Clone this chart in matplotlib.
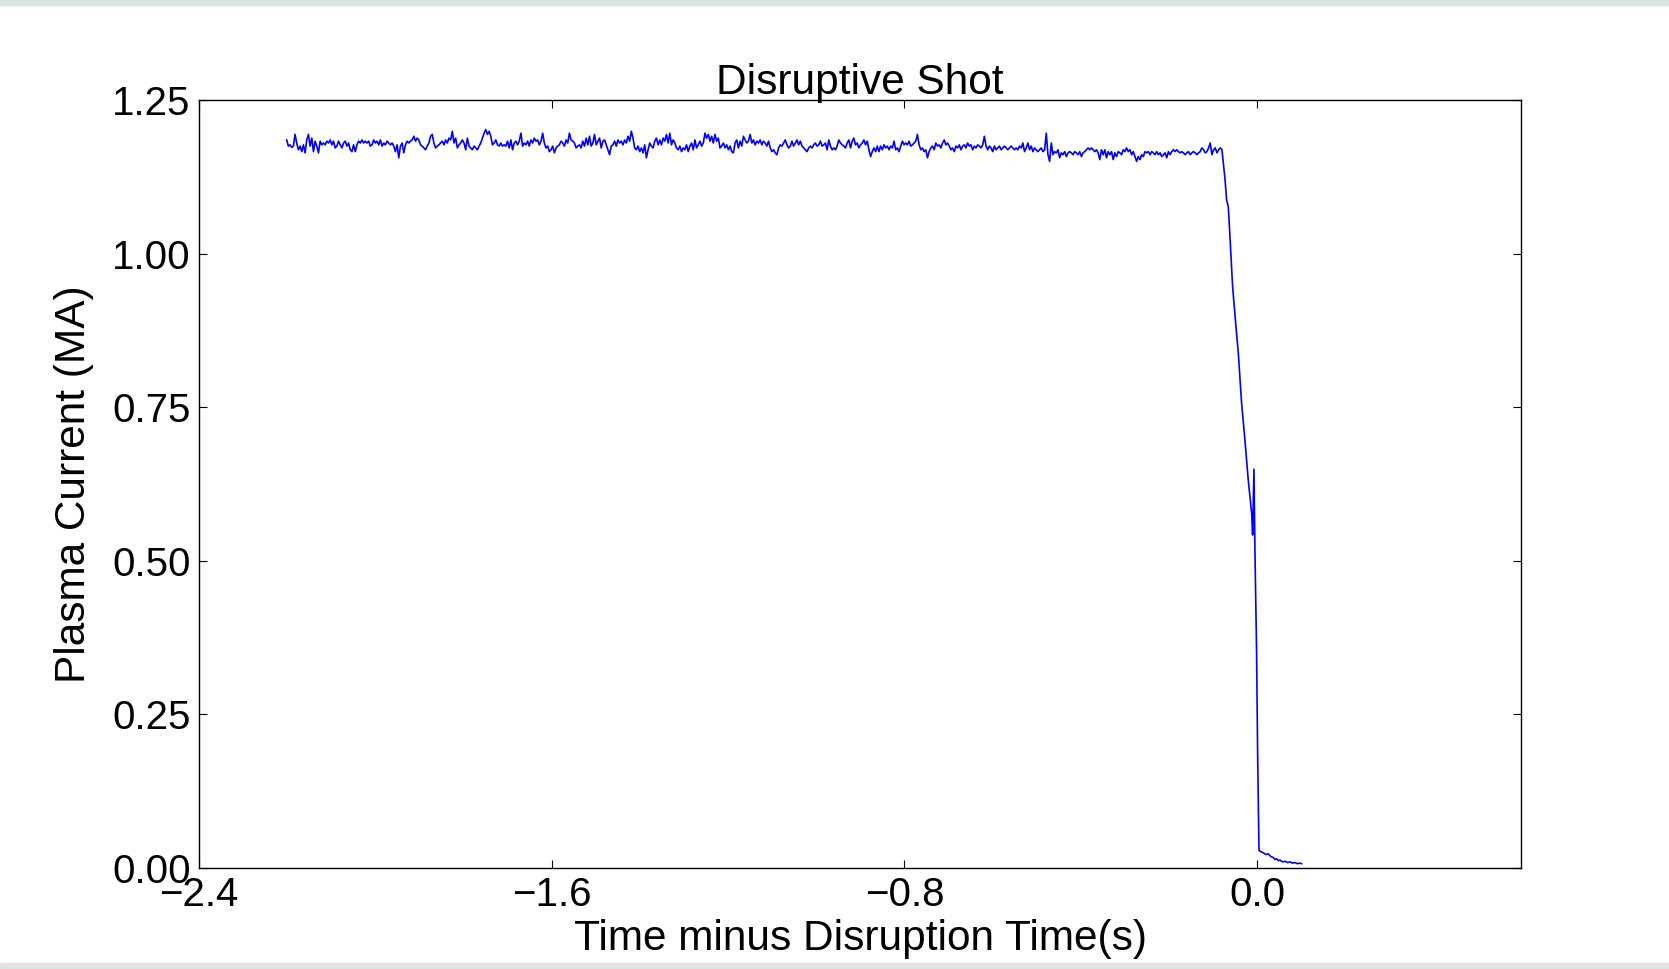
import numpy as np
import matplotlib
matplotlib.use("Agg")
import matplotlib.pyplot as plt
from matplotlib.patches import Rectangle
from matplotlib.ticker import FuncFormatter

plt.rcParams['font.family'] = ['Liberation Sans', 'DejaVu Sans']

# plasma current (MA) during the flat top left to right
flat_start = -2.201
flat_end = -0.0794
flat_ip = [
    1.185, 1.175, 1.177, 1.173, 1.175, 1.194, 1.180, 1.169, 1.175, 1.166, 1.177, 1.164, 1.185, 1.194, 1.175, 1.188, 1.166, 1.183, 1.175, 1.164,
    1.183, 1.177, 1.180, 1.177, 1.183, 1.180, 1.185, 1.177, 1.183, 1.172, 1.175, 1.183, 1.177, 1.172, 1.180, 1.183, 1.175, 1.180, 1.169, 1.166,
    1.177, 1.166, 1.177, 1.183, 1.180, 1.185, 1.180, 1.183, 1.180, 1.183, 1.175, 1.177, 1.185, 1.180, 1.183, 1.177, 1.185, 1.175, 1.180, 1.177,
    1.183, 1.180, 1.177, 1.180, 1.175, 1.166, 1.177, 1.156, 1.175, 1.180, 1.164, 1.177, 1.183, 1.180, 1.183, 1.185, 1.191, 1.183, 1.188, 1.185,
    1.177, 1.175, 1.172, 1.169, 1.175, 1.180, 1.191, 1.194, 1.180, 1.172, 1.175, 1.177, 1.180, 1.183, 1.177, 1.185, 1.180, 1.188, 1.185, 1.199,
    1.180, 1.188, 1.172, 1.177, 1.180,
    1.185, 1.180, 1.169, 1.188, 1.175, 1.172, 1.169, 1.175, 1.172, 1.169, 1.175, 1.180, 1.188, 1.196, 1.202, 1.194, 1.199, 1.191, 1.177, 1.180,
    1.185, 1.177, 1.175, 1.180, 1.175, 1.177, 1.175, 1.183, 1.172, 1.185, 1.169, 1.180, 1.183, 1.177, 1.183, 1.196, 1.175, 1.180, 1.177, 1.183,
    1.175, 1.185, 1.180, 1.188, 1.183, 1.185, 1.177, 1.183, 1.196, 1.180, 1.172, 1.175, 1.166, 1.169, 1.175, 1.164, 1.172, 1.175, 1.177, 1.183,
    1.180, 1.175, 1.185, 1.180, 1.196, 1.185, 1.183, 1.180, 1.172, 1.175, 1.177, 1.172, 1.183, 1.175, 1.188, 1.177, 1.191, 1.175, 1.180, 1.194,
    1.177, 1.183, 1.188, 1.172, 1.183, 1.185, 1.177, 1.169, 1.161, 1.175, 1.177, 1.183, 1.175, 1.185, 1.180, 1.183, 1.177, 1.185, 1.180, 1.191,
    1.183, 1.199, 1.188, 1.172, 1.169, 1.175, 1.166, 1.172, 1.164, 1.177, 1.156, 1.169, 1.180, 1.175, 1.172,
    1.183, 1.188, 1.177, 1.185, 1.177, 1.188, 1.183, 1.194, 1.180, 1.196, 1.177, 1.185, 1.180, 1.172, 1.169, 1.175, 1.166, 1.172, 1.169, 1.177,
    1.166, 1.175, 1.180, 1.169, 1.185, 1.172, 1.177, 1.183, 1.175, 1.180, 1.196, 1.188, 1.194, 1.183, 1.191, 1.180, 1.194, 1.183, 1.188, 1.172,
    1.175, 1.180, 1.172, 1.177, 1.169, 1.175, 1.166, 1.164, 1.180, 1.185, 1.172, 1.183, 1.175, 1.191, 1.185, 1.180, 1.183, 1.194, 1.180, 1.185,
    1.177, 1.183, 1.180, 1.185, 1.177, 1.183, 1.180, 1.175, 1.183, 1.172, 1.166, 1.169, 1.164, 1.161, 1.172, 1.177, 1.175, 1.180, 1.185, 1.177,
    1.172, 1.175, 1.183, 1.175, 1.180, 1.185, 1.177, 1.183, 1.175, 1.172, 1.169, 1.166, 1.172, 1.175, 1.172, 1.177, 1.180, 1.175, 1.177, 1.183,
    1.175, 1.177, 1.180, 1.169, 1.185, 1.175, 1.169, 1.172, 1.169, 1.175, 1.185, 1.180, 1.177, 1.175, 1.172,
    1.180, 1.185, 1.172, 1.183, 1.188, 1.177, 1.180, 1.172, 1.177, 1.180, 1.185, 1.177, 1.183, 1.169, 1.158, 1.166, 1.172, 1.166, 1.175, 1.166,
    1.175, 1.169, 1.177, 1.172, 1.175, 1.169, 1.175, 1.172, 1.183, 1.169, 1.172, 1.166, 1.175, 1.183, 1.177, 1.180, 1.177, 1.183, 1.175, 1.177,
    1.180, 1.183, 1.194, 1.177, 1.169, 1.172, 1.166, 1.169, 1.156, 1.166, 1.172, 1.175, 1.169, 1.180, 1.175, 1.177, 1.172, 1.180, 1.185, 1.177,
    1.180, 1.175, 1.169, 1.172, 1.166, 1.175, 1.172, 1.177, 1.169, 1.175, 1.177, 1.172, 1.180, 1.175, 1.177, 1.169, 1.175, 1.172, 1.177, 1.175,
    1.172, 1.177, 1.191, 1.175, 1.169, 1.175, 1.172, 1.166, 1.175, 1.169, 1.172, 1.175, 1.169, 1.172, 1.175, 1.172, 1.169, 1.172, 1.175, 1.172,
    1.169, 1.172, 1.169, 1.175, 1.172, 1.180, 1.166, 1.172, 1.180, 1.169, 1.175, 1.166, 1.172, 1.169, 1.166,
    1.169, 1.172, 1.166, 1.169, 1.196, 1.161, 1.150, 1.180, 1.161, 1.166, 1.164, 1.169, 1.156, 1.164, 1.161, 1.166, 1.158, 1.164, 1.166, 1.164,
    1.161, 1.166, 1.164, 1.161, 1.166, 1.158, 1.164, 1.166, 1.169, 1.172, 1.169, 1.172, 1.169, 1.166, 1.169, 1.164, 1.153, 1.169, 1.161, 1.169,
    1.156, 1.166, 1.161, 1.166, 1.153, 1.164, 1.158, 1.166, 1.164, 1.161, 1.169, 1.166, 1.172, 1.166, 1.169, 1.161, 1.166, 1.158, 1.150, 1.158,
    1.153, 1.161, 1.158, 1.166, 1.164, 1.166, 1.161, 1.166, 1.164, 1.161, 1.166, 1.161, 1.164, 1.158, 1.161, 1.164, 1.156, 1.166, 1.161, 1.166,
    1.169, 1.166, 1.169, 1.166, 1.164, 1.166, 1.164, 1.161, 1.164, 1.166, 1.161, 1.164, 1.166, 1.164, 1.161, 1.164, 1.166, 1.172, 1.169, 1.164,
    1.166, 1.172, 1.180, 1.161, 1.169, 1.172, 1.164, 1.169, 1.172, 1.169,
]

# current quench
quench_t = [-0.0726, -0.0688, -0.0650, -0.0612, -0.0552, -0.0476, -0.0423, -0.0348, -0.0272,
            -0.0197, -0.0121, -0.0098, -0.0068, -0.0045, -0.0008, 0.0015, 0.0045]
quench_ip = [1.122, 1.087, 1.076, 1.027, 0.946, 0.881, 0.838, 0.756, 0.696,
             0.631, 0.578, 0.542, 0.649, 0.513, 0.350, 0.187, 0.033]

# residual current after the disruption
tail_t = [0.0052, 0.0106, 0.0143, 0.0200, 0.0257, 0.0310, 0.0370, 0.0408, 0.0446, 0.0484,
          0.0522, 0.0578, 0.0635, 0.0692, 0.0749, 0.0805, 0.0862, 0.0920, 0.0970, 0.1013]
tail_ip = [0.028, 0.026, 0.025, 0.022, 0.023, 0.019, 0.017, 0.014, 0.015, 0.012,
           0.013, 0.010, 0.011, 0.009, 0.010, 0.008, 0.009, 0.007, 0.008, 0.007]

flat_t = np.linspace(flat_start, flat_end, len(flat_ip))
t = np.concatenate([flat_t, quench_t, tail_t])
ip = np.concatenate([flat_ip, quench_ip, tail_ip])

fig = plt.figure(figsize=(16.69, 9.69), dpi=100)
# slide background strips above and below the figure
fig.patches.append(Rectangle((0, 0.9948), 1, 0.0052, transform=fig.transFigure, color='#dde3e1', zorder=0))
fig.patches.append(Rectangle((0, 0), 1, 0.0062, transform=fig.transFigure, color='#dde3e1', zorder=0))

ax = fig.add_axes([0.1192, 0.1042, 0.7924, 0.7926])
ax.plot(t, ip, color='#0000ff', lw=1.2)

ax.set_xlim(-2.4, 0.6)
ax.set_ylim(0, 1.25)
ax.set_xticks([-2.4, -1.6, -0.8, 0.0])
ax.set_yticks([0, 0.25, 0.5, 0.75, 1.0, 1.25])
ax.xaxis.set_major_formatter(FuncFormatter(lambda v, p: ('%.1f' % v).replace('-', '\u2212')))
ax.yaxis.set_major_formatter(FuncFormatter(lambda v, p: '%.2f' % v))
ax.tick_params(direction='in', length=6, width=0.8, top=True, right=True,
               labelsize=29, pad=6)
for s in ax.spines.values():
    s.set_linewidth(1.0)

ax.set_title('Disruptive Shot', fontsize=30.5, pad=4)
ax.set_xlabel('Time minus Disruption Time(s)', fontsize=30.5, labelpad=3)
ax.set_ylabel('Plasma Current (MA)', fontsize=30.5, labelpad=13)

fig.savefig('out.png', dpi=100)
